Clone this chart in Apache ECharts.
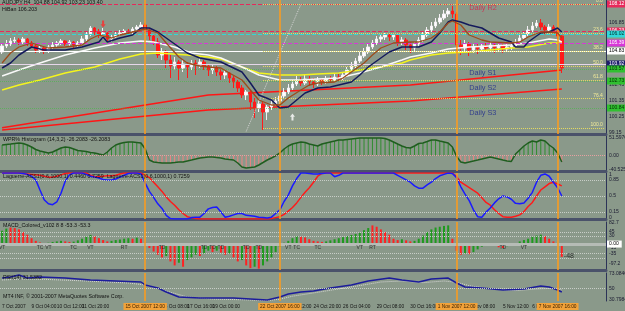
<!DOCTYPE html>
<html>
<head>
<meta charset="utf-8">
<script src="https://cdn.jsdelivr.net/npm/echarts@6/dist/echarts.min.js"></script>
<style>
html,body{margin:0;padding:0;background:#8a998a;}
#chart{width:625px;height:311px;}
</style>
</head>
<body>
<div id="chart"></div>
<script>
// ================= DATA =================
const slotCount = 144; // 134 bars + right shift
// candles: [open, close, low, high]
const candles = [
[104.76,105.18,104.62,105.32],[105.18,105.32,105.04,105.60],[105.32,105.53,105.18,105.74],[105.53,105.60,105.32,105.81],
[105.60,105.46,105.25,105.74],[105.46,105.67,105.32,105.81],[105.67,105.39,105.18,105.74],[105.39,105.18,105.04,105.53],
[105.18,104.90,104.69,105.32],[104.90,105.04,104.69,105.18],[105.04,104.83,104.62,105.18],[104.83,105.11,104.69,105.25],
[105.11,105.25,104.97,105.46],[105.25,105.39,105.11,105.53],[105.39,105.53,105.25,105.67],[105.53,105.32,105.18,105.60],
[105.32,105.46,105.11,105.60],[105.46,105.25,105.04,105.53],[105.25,105.39,105.11,105.53],[105.39,105.67,105.25,105.88],
[105.67,106.02,105.53,106.23],[106.02,106.44,105.88,106.58],[106.44,106.16,105.95,106.51],[106.16,105.95,105.74,106.37],
[105.95,106.09,105.67,106.44],[106.09,105.67,105.46,106.16],[105.67,105.81,105.46,106.02],[105.81,106.02,105.74,106.16],
[106.02,106.09,105.88,106.30],[106.09,106.23,105.95,106.37],[106.23,106.16,106.02,106.37],[106.16,106.37,106.02,106.51],
[106.37,106.51,106.23,106.65],[106.51,106.65,106.37,106.86],[106.65,106.30,106.09,106.79],[106.30,105.88,105.60,106.37],
[105.88,105.46,105.25,106.02],[105.46,104.55,104.34,105.74],[104.55,104.76,104.20,105.04],[104.76,104.20,103.64,104.90],
[104.20,103.78,102.94,104.55],[103.78,104.06,103.50,104.41],[104.06,103.64,102.80,104.20],[103.64,103.92,103.36,104.20],
[103.92,103.71,102.94,104.06],[103.71,103.99,103.50,104.20],[103.99,103.85,103.15,104.20],[103.85,104.06,103.64,104.34],
[104.06,103.78,103.50,104.20],[103.78,103.50,103.08,103.92],[103.50,103.64,103.22,103.85],[103.64,103.36,103.08,103.78],
[103.36,103.15,102.80,103.57],[103.15,103.29,102.87,103.50],[103.29,102.94,102.59,103.36],[102.94,102.66,102.24,103.08],
[102.66,102.24,101.96,102.80],[102.24,101.75,101.54,102.45],[101.75,101.96,101.40,102.10],[101.96,101.26,100.70,102.10],
[101.26,100.84,100.14,101.54],[100.84,101.12,100.56,101.40],[101.12,100.56,99.30,101.26],[100.56,100.91,100.00,101.05],
[100.91,101.12,100.70,101.40],[101.12,101.33,100.98,101.61],[101.33,101.68,101.12,101.89],[101.68,101.96,101.54,102.24],
[101.96,102.24,101.82,102.52],[102.24,102.52,102.10,102.80],[102.52,102.80,102.38,103.08],[102.80,102.59,102.38,103.01],
[102.59,102.87,102.45,103.15],[102.87,102.66,102.38,103.08],[102.66,102.52,102.24,102.94],[102.52,102.80,102.38,103.01],
[102.80,102.66,102.45,102.94],[102.66,102.87,102.52,103.08],[102.87,102.80,102.59,103.08],[102.80,103.01,102.66,103.22],
[103.01,102.94,102.73,103.22],[102.94,103.15,102.80,103.36],[103.15,103.50,103.01,103.71],[103.50,103.78,103.36,104.06],
[103.78,104.13,103.64,104.34],[104.13,104.48,103.99,104.76],[104.48,104.76,104.34,105.04],[104.76,105.11,104.62,105.32],
[105.11,105.39,104.97,105.60],[105.39,105.67,105.25,105.88],[105.67,105.81,105.46,106.02],[105.81,105.95,105.60,106.09],
[105.95,105.81,105.53,106.09],[105.81,105.95,105.60,106.09],[105.95,105.46,105.18,106.02],[105.46,105.60,105.25,105.81],
[105.60,105.25,104.90,105.74],[105.25,105.04,104.69,105.46],[105.04,105.32,104.76,105.46],[105.32,105.60,105.18,105.81],
[105.60,105.95,105.46,106.16],[105.95,106.30,105.81,106.51],[106.30,106.58,106.16,106.86],[106.58,106.86,106.44,107.14],
[106.86,107.14,106.72,107.42],[107.14,107.42,107.00,107.70],[107.42,107.63,107.21,107.84],[107.63,107.42,107.14,107.98],
[107.42,105.25,104.69,107.56],[105.25,105.04,104.55,105.60],[105.04,105.32,104.76,105.60],[105.32,104.90,104.48,105.46],
[104.90,105.11,104.69,105.32],[105.11,104.97,104.62,105.39],[104.97,105.18,104.83,105.39],[105.18,105.04,104.76,105.39],
[105.04,105.25,104.90,105.46],[105.25,105.04,104.69,105.39],[105.04,105.18,104.83,105.39],[105.18,104.97,104.69,105.32],
[104.97,105.11,104.83,105.32],[105.11,105.18,104.90,105.39],[105.18,105.46,105.04,105.67],[105.46,105.74,105.32,105.95],
[105.74,106.02,105.60,106.23],[106.02,106.30,105.88,106.58],[106.30,106.58,106.16,106.86],[106.58,106.79,106.44,107.00],
[106.79,106.51,106.30,107.07],[106.51,106.30,106.02,106.65],[106.30,106.51,106.09,106.72],[106.51,106.23,105.95,106.65],
[106.23,105.88,105.60,106.44],[105.88,103.64,103.29,106.02]
];
// moving averages read at bar indices: [bar, price]
const brownMA = [[0,103.99],[2,104.69],[4,105.11],[7,105.39],[11,105.04],[15,105.11],[19,105.25],[21,105.67],[23,105.95],[26,105.74],[28,105.95],[31,106.16],[34,106.37],[37,106.09],[39,105.39],[42,104.41],[44,103.99],[47,103.78],[49,103.71],[52,103.64],[54,103.29],[57,102.80],[59,102.10],[61,101.40],[64,101.05],[66,101.05],[68,101.54],[71,102.10],[73,102.45],[75,102.59],[79,102.66],[81,102.94],[83,103.36],[86,103.99],[88,104.55],[90,105.04],[93,105.39],[97,105.46],[99,105.46],[102,105.74],[104,106.16],[106,106.79],[107,106.93],[109,106.65],[111,105.95],[114,105.60],[116,105.46],[121,105.39],[123,105.46],[125,105.81],[128,106.16],[130,106.16],[132,106.09],[133,105.74]];
const navyMA = [[0,103.64],[2,103.99],[4,104.55],[7,105.11],[10,104.90],[15,104.90],[19,105.11],[23,105.46],[24,105.81],[25,105.46],[28,105.74],[31,105.95],[33,106.44],[35,106.44],[37,106.16],[39,105.74],[42,105.11],[44,104.69],[47,104.34],[52,104.06],[57,103.36],[59,102.59],[61,101.75],[64,101.40],[66,100.84],[68,100.91],[70,101.40],[72,101.89],[75,102.24],[78,102.31],[80,102.45],[83,102.66],[85,103.15],[87,103.71],[90,104.34],[92,104.76],[95,105.11],[99,105.11],[102,105.46],[104,106.09],[106,106.86],[107,107.00],[109,106.86],[111,106.65],[114,106.44],[116,106.09],[118,105.74],[121,105.46],[122,105.11],[124,105.11],[125,105.46],[128,106.09],[130,106.16],[132,106.44],[133,106.16]];
const whiteMA = [[0,103.08],[4,103.50],[9,103.99],[15,104.55],[22,105.04],[28,105.39],[33,105.53],[36,105.46],[41,105.11],[45,104.69],[49,104.55],[52,104.34],[57,103.71],[61,103.15],[66,102.80],[71,102.80],[75,102.87],[80,102.94],[85,103.29],[90,103.71],[95,104.20],[97,104.41],[102,104.69],[106,104.97],[111,105.11],[116,105.18],[121,105.25],[125,105.39],[130,105.67],[132,105.60],[133,105.46]];
const yellowMA = [[0,102.10],[4,102.45],[9,102.80],[15,103.29],[22,103.71],[28,104.27],[33,104.62],[37,104.69],[44,104.55],[49,104.41],[52,104.27],[57,103.71],[61,103.29],[66,103.15],[71,103.15],[75,103.22],[80,103.29],[85,103.50],[90,103.71],[95,103.99],[97,104.20],[102,104.55],[106,104.69],[111,104.76],[116,104.90],[121,105.04],[125,105.11],[130,105.39],[133,105.39]];
const redMA1 = [[0,99.46],[49,101.75],[97,102.45],[133,103.50]];
const redMA2 = [[0,99.30],[49,100.70],[97,101.33],[133,102.17]];
// horizontal levels (main window)
const pivotLevels = [108.12, 106.23, 106.02, 105.39, 104.83, 103.92, 103.57, 102.73, 100.84];
const fibLevels = [['0.0',108.12],['23.6',106.07],['38.2',104.80],['50.0',103.78],['61.8',102.76],['76.4',101.49],['100.0',99.44]];
const fibStartBar = 62;
const trendLine = [[58, 99.2], [71, 108.1]];
const arrowsDown = [[24, 106.72]];
const arrowsUp = [[69, 100.21]];
const mainTexts = [['Daily R2', 111, 107.84], ['Daily S1', 111, 103.29], ['Daily S2', 111, 102.24], ['Daily S3', 111, 100.49]];
// vertical lines
const vBars = [34, 66, 108, 132];
const vTexts = ['15 Oct 2007 12:00', '22 Oct 2007 16:00', '1 Nov 2007 12:00', '7 Nov 2007 16:00'];
// time axis tick labels [bar, text]
const timeTicks = [[0,'7 Oct 2007'],[7,'9 Oct 04:00'],[13,'10 Oct 12:00'],[19,'11 Oct 20:00'],[38,'16 Oct 08:00'],[44,'17 Oct 16:00'],[50,'19 Oct 00:00'],[67,'23 Oct 12:00'],[74,'24 Oct 20:00'],[81,'26 Oct 04:00'],[89,'29 Oct 08:00'],[97,'30 Oct 16:00'],[111,'2 Nov 08:00'],[119,'5 Nov 12:00'],[126,'6 Nov 20:00']];
// right axis tick labels [value, text]
const priceTicks = [[106.85,'106.85'],[102.45,'102.45'],[101.35,'101.35'],[100.25,'100.25'],[99.15,'99.15']];
const histTicks = [[48.5,'51.5976'],[0,'0.00'],[-37.5,'-40.5257']];
const lagTicks = [[0.97,'1'],[0.85,'0.85'],[0.5,'0.5'],[0.15,'0.15'],[0.04,'0']];
const macdTicks = [[79,'82.7'],[45,'45'],[30,'30'],[-15,'-15'],[-35,'-35'],[-72,'-97.2']];
const rsiTicks = [[71.5,'73.0846'],[50,'50'],[32.5,'30.7984']];
// window 2 : histogram
const hist = [27.9,29.2,30.5,31.9,33.2,31.9,27.9,22.6,16.1,12.1,
9.5,6.9,9.5,14.8,20,22.6,21.3,17.4,13.4,12.1,
10.8,8.2,6.9,4.2,1.6,9.5,20,27.9,31.9,34.5,
35.8,35.8,34.5,33.2,17.4,-11.6,-16.8,-18.2,-19.5,-19.5,
-19.5,-18.2,-16.8,-16.8,-14.2,-11.6,-8.9,-6.3,-5,-3.7,
-3.7,-5,-6.3,-8.9,-10.3,-11.6,-19.5,-30,-32.6,-31.3,
-30,-24.7,-18.2,-11.6,-6.3,-0.5,6.9,17.4,25.3,30.5,
33.2,35.8,34.5,30.5,27.9,25.3,30.5,33.2,35.8,38.4,
41.1,41.1,42.4,43.7,45,46.3,46.3,46.3,46.3,46.3,
46.3,45,41.1,35.8,30.5,25.3,21.3,20,25.3,31.9,
33.2,37.1,41.1,41.1,38.4,35.8,33.2,22.6,-2,-16.8,
-19.5,-16.8,-14.2,-11.6,-8.9,-6.3,-3.7,-6.3,-8.9,-11.6,
-14.2,-15.5,4.2,14.8,25.3,33.2,38.4,35.8,41.1,38.4,
27.9,20,6.9,-16.8];
// window 3 : laguerre
const lagBlue = [1,1,1,1,1,0.99,0.97,0.93,0.85,0.63,
0.42,0.33,0.31,0.37,0.56,0.82,0.96,1,1,1,
0.97,0.93,0.91,0.89,0.86,0.85,0.85,0.87,0.91,0.95,
0.99,1,1,0.98,0.78,0.6,0.47,0.33,0.23,0.08,
0.01,0,0,0,0,0.03,0.04,0.04,0.12,0.22,
0.25,0.26,0.15,0.04,0.06,0.09,0.12,0.12,0.08,0.07,
0.06,0.04,0.03,0.02,0.04,0.12,0.2,0.38,0.52,0.72,
0.88,1,1,0.99,0.98,0.98,0.99,1,1,0.92,
0.95,1,1,1,1,1,1,1,1,1,
1,1,1,1,0.95,0.9,0.85,0.8,0.72,0.67,
0.67,0.74,0.8,0.88,0.94,0.97,1,0.99,0.9,0.7,
0.54,0.4,0.2,0.05,0.04,0.15,0.24,0.35,0.44,0.5,
0.48,0.43,0.34,0.33,0.35,0.45,0.58,0.8,0.95,0.98,
0.93,0.8,0.68,0.5];
const lagRed = [1,1,1,1,1,0.99,0.98,0.97,0.96,0.95,
0.93,0.91,0.91,0.93,0.96,0.99,1,1,1,1,
1,0.95,0.92,0.92,0.93,0.94,0.94,0.95,0.98,1,
1,1,1,1,0.95,0.9,0.8,0.7,0.6,0.48,
0.38,0.3,0.2,0.12,0.05,0.03,0.01,0,0,0,
0,0,0,0,0,0,0,0,0,0,
0,0,0,0,0.01,0.03,0.05,0.1,0.17,0.25,
0.35,0.47,0.58,0.68,0.8,0.93,0.99,1,1,1,
1,1,1,1,1,1,1,1,1,1,
1,1,1,1,1,1,1,1,1,1,
1,1,1,1,1,1,1,1,0.92,0.8,
0.74,0.68,0.62,0.56,0.46,0.36,0.3,0.2,0.12,0.05,
0.04,0.04,0.06,0.09,0.16,0.27,0.36,0.5,0.63,0.7,
0.77,0.8,0.76,0.72];
// window 4 : colored MACD
const macd = [50,58,62,60,55,45,35,22,12,6,
4,5,8,10,12,10,8,9,14,20,
28,34,30,22,15,10,12,15,17,20,
22,20,24,20,5,-15,-28,-40,-50,-45,
-65,-80,-70,-85,-60,-50,-40,-45,-35,-25,
-30,-25,-32,-40,-35,-50,-65,-60,-80,-90,
-85,-92,-80,-65,-50,-30,-10,5,12,22,
30,28,25,18,12,10,8,10,14,18,
22,26,30,34,38,42,52,60,70,65,
55,45,35,20,15,18,14,10,12,20,
32,45,55,62,65,68,70,20,-25,-40,
-35,-38,-30,-20,-10,-5,3,-5,-12,-15,
-8,-5,3,10,15,20,28,32,35,30,
20,10,4,-48];
const macdDir = 'ggrrrrrrrr'+'rggggrrggg'+'ggrrrrgggg'+'grgrrrrrrg'+'rrgrgggrgg'+'rgrrgrrgrr'+'grgggggggg'+'grrrrrrggg'+'ggggggggrr'+'rrrrrgrrgg'+'gggggggrrr'+'grgggggrrr'+'gggggggggr'+'rrrr';
const macdTags = [[0,'VT'],[9,'TC'],[11,'VT'],[17,'TC'],[21,'VT'],[29,'RT'],[38,'TD'],[48,'TD'],[50,'TD'],[52,'TD'],[58,'TD'],[61,'TD'],[68,'VT'],[70,'TC'],[75,'TC'],[85,'VT'],[88,'RT'],[119,'TD'],[124,'VT']];
const macdLast = [[133, -44, '-48']];
// window 5 : RSI
const rsi = [[0,65.5],[2,67],[4,70.1],[6,65.5],[9,67],[15,65.5],[21,62.5],[27,61],[33,59.5],[34,55],[37,50.4],[39,44.4],[42,36.8],[47,35.3],[55,35.3],[59,33.8],[63,32.3],[66,36.8],[68,41.4],[71,44.4],[74,45.9],[78,50.4],[83,55],[87,61],[92,65.5],[95,62.5],[99,59.5],[102,64],[106,65.5],[108,58],[110,51.9],[114,50.4],[119,47.4],[124,48.9],[128,53.4],[130,51.9],[132,47.4],[133,44.4]];
const rsiSignal = [[0,62.5],[5,64],[10,63.5],[20,61],[30,58],[34,55],[37,50],[40,44],[44,37],[50,33.8],[58,32.5],[63,31.5],[66,33.5],[69,38],[73,42],[78,47],[84,53],[90,59.5],[95,61],[100,58.5],[105,61],[108,59],[111,54],[116,49],[122,46.5],[127,49],[131,50],[133,47.5]];
// titles
const titles = [
  ['AUDJPY,H4  104.88 104.92 103.23 103.40', 2, 0],
  ['HiBan 106.203', 2, 7],
  ['WPR% Histogram (14,3,2) -26.2083 -26.2083', 3, 137],
  ['Laguerre-ACS1(0.6,1000,1) 0.4460 0.7259  Laguerre-ACS1(0.6,1000,1) 0.7259', 3, 174],
  ['MACD_Colored_v102 8 8 -53.3 -53.3', 3, 223],
  ['RSI(14) 31.5382', 3, 275],
  ['MT4 INF, \u00a9 2001-2007 MetaQuotes Software Corp.', 3, 294]
];

// ================= STYLE =================
const F = 'Liberation Sans, Arial, sans-serif';
const SEP = '#4a526a';
const ORANGE = '#ff9c1a';
const levelLine = ['#e8285a','#e8285a','#30d8d8','#d838d8','#ffffff','#e6d6ea','rgba(60,190,60,0.55)','rgba(60,190,60,0.55)','rgba(60,190,60,0.55)'];
const levelType = ['dashed','dashed','dashed','dashed','solid','solid','dotted','dotted','dotted'];
const levelBox  = ['#e8285a','#e8285a','#30d8d8','#d838d8','#ffffff','#1c1c6c','#30c030','#30c030','#30c030'];
const levelTxt  = ['#ffffff','#ffffff','#003030','#ffffff','#000000','#ffffff','#003000','#003000','#003000'];
const mainTextColors = ['#d8204a','#1e2a8c','#1e2a8c','#1e2a8c'];

const slots = Array.from({length: slotCount}, (_, i) => String(i));
const tickText = {};
timeTicks.forEach(([i, t]) => { tickText[i] = t; });

const gridBoxes = [[0,134],[136,35],[173,46],[222,48],[273,28]];
const yRanges = [[99.02,108.40],[-40.5257,51.5976],[0,1],[-97.2,82.7],[30.7984,73.0846]];
const yTicks = [priceTicks, histTicks, lagTicks, macdTicks, rsiTicks];

const grid = gridBoxes.map(([t, h]) => ({left: 0, right: 19, top: t, height: h, outerBoundsMode: 'none', containLabel: false}));
const xAxis = gridBoxes.map((g, k) => ({
  gridIndex: k, type: 'category', data: slots, boundaryGap: true,
  axisLine: {show: k < 4, onZero: false, lineStyle: {color: SEP, width: 3}},
  axisTick: {show: false}, splitLine: {show: false},
  axisLabel: k < 4 ? {show: false} : {
    show: true, interval: (idx) => tickText[idx] !== undefined,
    formatter: (v, idx) => tickText[idx] || '', align: 'left',
    fontSize: 4.8, color: '#141414', margin: 3, fontFamily: F
  }
}));
const yAxis = gridBoxes.map((g, k) => ({
  gridIndex: k, type: 'value', position: 'right', min: yRanges[k][0], max: yRanges[k][1],
  axisLine: {show: true, lineStyle: {color: '#2c3358', width: 1}},
  axisTick: {show: false}, splitLine: {show: false},
  axisLabel: {
    show: true, customValues: yTicks[k].map(t => t[0]),
    formatter: (v) => { for (const [val, txt] of yTicks[k]) { if (Math.abs(val - v) < 1e-6) return txt; } return ''; },
    fontSize: 5, color: '#1a1a30', margin: 3, fontFamily: F
  }
}));

const vLineData = (withLabel) => vBars.map((b, k) => ({
  xAxis: b,
  lineStyle: {color: ORANGE, width: 1.5, type: 'solid'},
  label: withLabel ? {show: true, position: 'start', formatter: vTexts[k], backgroundColor: '#f2a23a',
    color: '#3a2000', fontSize: 4.8, fontFamily: F, padding: [1, 2, 1, 2], distance: 2} : {show: false}
}));
const dotted = (v, color) => ({yAxis: v, lineStyle: {color: color, type: 'dotted', width: 1}, label: {show: false}});
const mk = (data) => ({silent: true, symbol: ['none', 'none'], animation: false, label: {show: false}, data: data});

const series = [];
// ---- main window ----
const levelData = pivotLevels.map((p, k) => ({
  yAxis: p,
  lineStyle: {color: levelLine[k], type: levelType[k], width: 1},
  label: {show: true, position: 'end', distance: 1, formatter: p.toFixed(2), backgroundColor: levelBox[k],
    color: levelTxt[k], fontSize: 5, fontFamily: F, padding: [1, 2, 1, 2]}
}));
const fibData = fibLevels.map(([t, p]) => [
  {coord: [fibStartBar, p], lineStyle: {color: '#e6dc60', type: 'dotted', width: 1},
   label: {show: true, position: 'insideEndTop', formatter: t, color: '#f2ea9a', fontSize: 5, fontFamily: F, distance: 1}},
  {coord: [slotCount - 1, p]}
]);
const trendData = [[{coord: trendLine[0], lineStyle: {color: '#d4d4d4', type: 'dotted', width: 1}}, {coord: trendLine[1]}]];
series.push({type: 'line', xAxisIndex: 0, yAxisIndex: 0, data: [], z: 1,
  markLine: mk([...levelData, ...fibData, ...trendData, ...vLineData(false)])});
const maLine = (data, color, width, z) => ({type: 'line', xAxisIndex: 0, yAxisIndex: 0, data: data,
  symbol: 'none', silent: true, z: z, lineStyle: {color: color, width: width}});
series.push(maLine(redMA2, '#ff1616', 1.5, 2));
series.push(maLine(redMA1, '#ff1616', 1.5, 2));
series.push({type: 'candlestick', xAxisIndex: 0, yAxisIndex: 0, data: candles, barWidth: 3, z: 3, silent: true,
  itemStyle: {color: '#ffffff', color0: '#ff1a1a', borderColor: '#f4f0f4', borderColor0: '#ff1a1a', borderWidth: 1}});
series.push(maLine(yellowMA, '#f4f41e', 1.5, 4));
series.push(maLine(whiteMA, '#f8f8f8', 1.5, 4));
series.push(maLine(navyMA, '#141a5c', 1.5, 5));
series.push(maLine(brownMA, '#9c4c1c', 1.3, 5));
const ARROW = 'path://M3,0 L7,0 L7,6 L10,6 L5,11 L0,6 L3,6 Z';
series.push({type: 'scatter', xAxisIndex: 0, yAxisIndex: 0, data: arrowsDown, symbol: ARROW, symbolSize: [5, 7], z: 6, silent: true,
  itemStyle: {color: '#ff2a2a'}});
series.push({type: 'scatter', xAxisIndex: 0, yAxisIndex: 0, data: arrowsUp, symbol: ARROW, symbolRotate: 180, symbolSize: [5, 7], z: 6, silent: true,
  itemStyle: {color: '#ffffff'}});
series.push({type: 'scatter', xAxisIndex: 0, yAxisIndex: 0, symbolSize: 0, z: 6, silent: true,
  data: mainTexts.map(([t, b, p], k) => ({value: [b, p], name: t, label: {color: mainTextColors[k]}})),
  label: {show: true, position: 'right', distance: 0, formatter: '{b}', fontSize: 7.3, fontFamily: F}});

// ---- window 2: histogram ----
series.push({type: 'bar', xAxisIndex: 1, yAxisIndex: 1, barWidth: 1, z: 2, silent: true,
  data: hist.map(v => ({value: v, itemStyle: {color: v >= 0 ? '#2f8c2f' : '#ee8282'}})),
  markLine: mk([dotted(0, '#e6a0a0'), ...vLineData(false)])});
series.push({type: 'line', xAxisIndex: 1, yAxisIndex: 1, data: hist, symbol: 'none', z: 3, silent: true,
  lineStyle: {color: '#1f5e1f', width: 1.5}});

// ---- window 3: laguerre ----
series.push({type: 'line', xAxisIndex: 2, yAxisIndex: 2, data: lagRed, symbol: 'none', z: 3, silent: true,
  lineStyle: {color: '#ff1a1a', width: 1.5},
  markLine: mk([dotted(0.85, '#c8cec8'), dotted(0.5, '#c8cec8'), dotted(0.15, '#c8cec8'), ...vLineData(false)])});
series.push({type: 'line', xAxisIndex: 2, yAxisIndex: 2, data: lagBlue, symbol: 'none', z: 4, silent: true,
  lineStyle: {color: '#1a1aff', width: 1.5}});

// ---- window 4: MACD colored ----
series.push({type: 'bar', xAxisIndex: 3, yAxisIndex: 3, barWidth: 2, z: 3, silent: true,
  data: macd.map((v, i) => ({value: v, itemStyle: {color: macdDir[i] === 'g' ? '#1e9a1e' : '#ff2222'}})),
  markLine: mk([
    {yAxis: 0, lineStyle: {color: '#b6bcb6', type: 'solid', width: 3},
     label: {show: true, position: 'end', distance: 1, formatter: '0.00', backgroundColor: '#ffffff', color: '#000000',
       fontSize: 5, fontFamily: F, padding: [1, 3, 1, 2]}},
    dotted(45, '#c8cec8'), dotted(30, '#c8cec8'), dotted(-35, '#c8cec8'), dotted(-55, '#c8cec8'),
    ...vLineData(false)])});
series.push({type: 'scatter', xAxisIndex: 3, yAxisIndex: 3, symbolSize: 0, z: 5, silent: true,
  data: macdTags.map(([b, t]) => ({value: [b, -14.5], name: t})),
  label: {show: true, position: 'inside', formatter: '{b}', fontSize: 5, color: '#141414', fontFamily: F}});
series.push({type: 'scatter', xAxisIndex: 3, yAxisIndex: 3, symbolSize: 0, z: 5, silent: true,
  data: macdLast.map(([b, v, t]) => ({value: [b, v], name: t})),
  label: {show: true, position: 'right', distance: 2, formatter: '{b}', fontSize: 7, color: '#141414', fontFamily: F}});

// ---- window 5: RSI ----
series.push({type: 'line', xAxisIndex: 4, yAxisIndex: 4, data: rsiSignal, symbol: 'none', z: 3, silent: true,
  lineStyle: {color: '#d6d6d6', width: 1, type: 'dotted'},
  markLine: mk([dotted(50, '#c8cec8'), ...vLineData(true)])});
series.push({type: 'line', xAxisIndex: 4, yAxisIndex: 4, data: rsi, symbol: 'none', z: 4, silent: true,
  lineStyle: {color: '#1c1c9c', width: 1.5}});

const option = {
  animation: false,
  backgroundColor: '#8a998a',
  title: titles.map(([t, l, tp]) => ({text: t, left: l, top: tp, padding: 0,
    textStyle: {fontSize: 5.3, fontWeight: 'normal', color: '#121212', fontFamily: F}})),
  grid: grid, xAxis: xAxis, yAxis: yAxis, series: series
};
const chart = echarts.init(document.getElementById('chart'), null, {renderer: 'canvas'});
chart.setOption(option);
</script>
</body>
</html>
